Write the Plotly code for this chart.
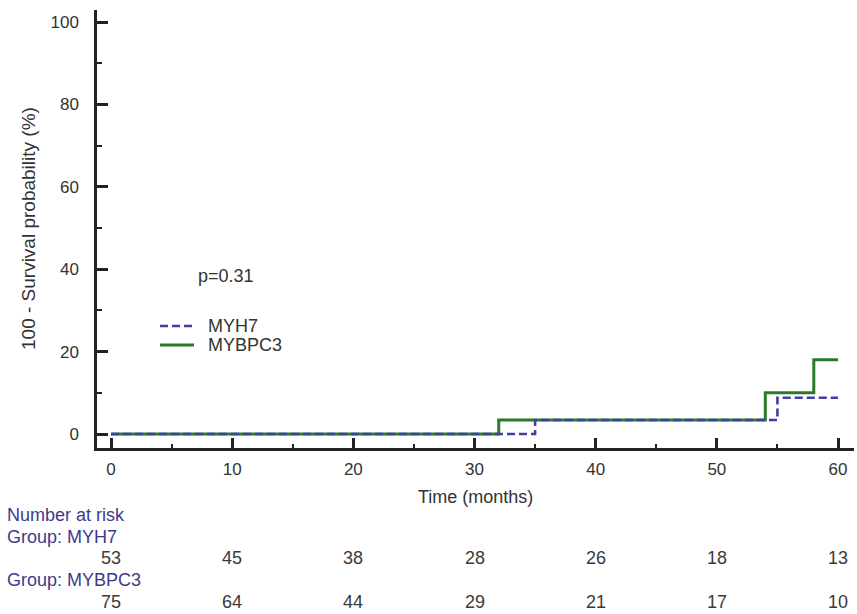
import plotly.graph_objects as go

# ---- data ----
myh7_time = [0, 35, 55, 60]
myh7_value = [0, 3.4, 8.8, 8.8]
mybpc3_time = [0, 32, 54, 58, 60]
mybpc3_value = [0, 3.4, 10.0, 18.0, 18.0]

risk_times = [0, 10, 20, 30, 40, 50, 60]
risk_myh7 = [53, 45, 38, 28, 26, 18, 13]
risk_mybpc3 = [75, 64, 44, 29, 21, 17, 10]

p_text = "p=0.31"

# ---- layout geometry (pixels) ----
W, H = 857, 614
ML, MR, MT, MB = 97, 3, 10, 166
PW = W - ML - MR
PH = H - MT - MB


def py(pix):
    """pixel y (from top) -> paper y"""
    return (H - MB - pix) / PH


def px(pix):
    """pixel x (from left) -> paper x"""
    return (pix - ML) / PW


FONT = "Liberation Sans, Arial, sans-serif"
GREEN = "#2b7a2b"
BLUE = "#3f3fa6"
AXIS = "#222222"
LBLUE = "#3d3a8c"
TXT = "#333333"

fig = go.Figure()
fig.add_trace(go.Scatter(
    x=mybpc3_time, y=mybpc3_value, mode="lines", name="MYBPC3",
    line=dict(color=GREEN, width=3, shape="hv"), showlegend=False))
fig.add_trace(go.Scatter(
    x=myh7_time, y=myh7_value, mode="lines", name="MYH7",
    line=dict(color=BLUE, width=2.6, shape="hv", dash="8px,4px"), showlegend=False))

# manual legend (compact spacing as in the reference)
legend_items = [("MYH7", BLUE, "8px,4px", 2.6, 326), ("MYBPC3", GREEN, "solid", 3, 345)]
shapes = []
annotations = []
for name, col, dash, wd, ypix in legend_items:
    shapes.append(dict(type="line", xref="paper", yref="paper",
                       x0=px(160), x1=px(194), y0=py(ypix), y1=py(ypix),
                       line=dict(color=col, width=wd, dash=dash)))
    annotations.append(dict(text=name, x=px(206), y=py(ypix), xref="paper", yref="paper",
                            xanchor="left", yanchor="middle", showarrow=False,
                            font=dict(size=18, color=TXT, family=FONT)))

annotations += [
    dict(text=p_text, x=px(196), y=py(276), xref="paper", yref="paper",
         xanchor="left", yanchor="middle", showarrow=False,
         font=dict(size=18, color=TXT, family=FONT)),
    dict(text="Number at risk", x=px(5), y=py(515), xref="paper", yref="paper",
         xanchor="left", yanchor="middle", showarrow=False,
         font=dict(size=18, color=LBLUE, family=FONT)),
    dict(text="Group: MYH7", x=px(5), y=py(537), xref="paper", yref="paper",
         xanchor="left", yanchor="middle", showarrow=False,
         font=dict(size=18, color=LBLUE, family=FONT)),
    dict(text="Group: MYBPC3", x=px(5), y=py(580), xref="paper", yref="paper",
         xanchor="left", yanchor="middle", showarrow=False,
         font=dict(size=18, color=LBLUE, family=FONT)),
]
for t, a, b in zip(risk_times, risk_myh7, risk_mybpc3):
    annotations.append(dict(text=str(a), x=t, y=py(558), xref="x", yref="paper",
                            xanchor="center", yanchor="middle", showarrow=False,
                            font=dict(size=18, color="#3a3a3a", family=FONT)))
    annotations.append(dict(text=str(b), x=t, y=py(602), xref="x", yref="paper",
                            xanchor="center", yanchor="middle", showarrow=False,
                            font=dict(size=18, color="#3a3a3a", family=FONT)))

annotations.append(dict(text="Time (months)", x=0.5, y=py(497), xref="paper", yref="paper",
                        xanchor="center", yanchor="middle", showarrow=False,
                        font=dict(size=18, color=TXT, family=FONT)))
annotations.append(dict(text="100 - Survival probability (%)", x=px(28), y=0.5,
                        xref="paper", yref="paper", textangle=-90,
                        xanchor="center", yanchor="middle", showarrow=False,
                        font=dict(size=19, color=TXT, family=FONT)))

x0 = -(111 - ML) / 12.117
x1 = (W - MR - 111) / 12.117
y0 = -(448 - 434) / 4.12
y1 = (434 - MT) / 4.12

fig.update_layout(
    width=W, height=H,
    margin=dict(l=ML, r=MR, t=MT, b=MB, pad=0),
    paper_bgcolor="white", plot_bgcolor="white",
    showlegend=False,
    shapes=shapes,
    annotations=annotations,
    xaxis=dict(range=[x0, x1], showgrid=False, zeroline=False,
               showline=True, linecolor=AXIS, linewidth=2.5,
               tickmode="array", tickvals=risk_times,
               ticks="inside", ticklen=10, tickwidth=2.5, tickcolor=AXIS,
               ticklabelstandoff=4,
               minor=dict(ticks="inside", ticklen=4, tickwidth=1.5, tickcolor=AXIS,
                          tickvals=[5, 15, 25, 35, 45, 55]),
               tickfont=dict(size=17, color=TXT, family=FONT)),
    yaxis=dict(range=[y0, y1], showgrid=False, zeroline=False,
               showline=True, linecolor=AXIS, linewidth=2.5,
               tickmode="array", tickvals=[0, 20, 40, 60, 80, 100],
               ticks="inside", ticklen=11, tickwidth=2.5, tickcolor=AXIS,
               ticklabelstandoff=12,
               minor=dict(ticks="inside", ticklen=5, tickwidth=1.5, tickcolor=AXIS,
                          tickvals=[10, 30, 50, 70, 90]),
               tickfont=dict(size=17, color=TXT, family=FONT)),
)

fig.write_html("out.html", config={"displayModeBar": False},
               post_script="document.body.style.margin='0';")
